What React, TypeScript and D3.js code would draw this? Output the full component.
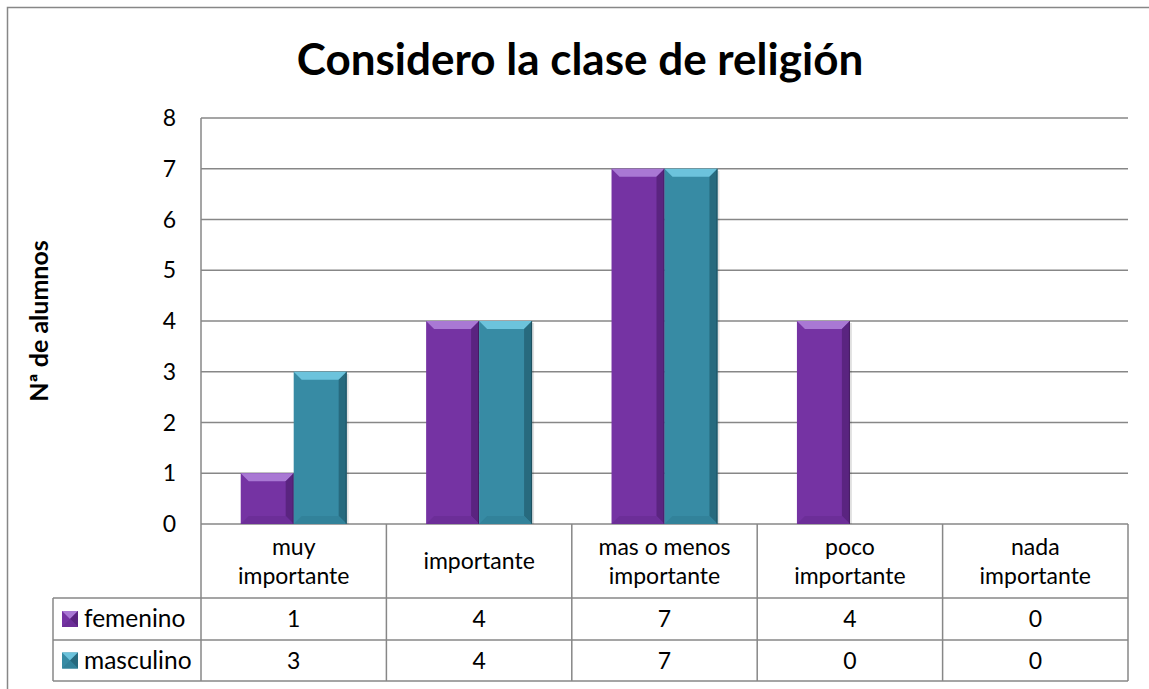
import * as d3 from "d3";

const categories = ["muy importante", "importante", "mas o menos importante", "poco importante", "nada importante"];
const seriesNames = ["femenino", "masculino"];
const femenino = [1, 4, 7, 4, 0];
const masculino = [3, 4, 7, 0, 0];
const yTicks = [0, 1, 2, 3, 4, 5, 6, 7, 8];

const W = 1149;
const H = 689;
const FONT = "Lato, 'Open Sans', sans-serif";
const LINE = "#878787";

// colours: body, light top, dark side
const palette = [
  { body: "#7533a3", light: "#a978d4", side: "#6c2e98", dark: "#5a2480" },
  { body: "#378ba4", light: "#6cc3dc", side: "#32829a", dark: "#276a7e" },
];

const plot = { left: 201, right: 1128, top: 118, bottom: 524 };
const table = { legendLeft: 53, row1: 598, row2: 640, row3: 681 };

function wrap(label: string) {
  if (label.length <= 12) return [label];
  const i = label.lastIndexOf(" ");
  return [label.slice(0, i), label.slice(i + 1)];
}

const pts = (p: number[][]) => p.map((d) => d.join(",")).join(" ");

function BevelBar({ x, y, w, h, c }: { x: number; y: number; w: number; h: number; c: typeof palette[0] }) {
  if (h <= 0) return null;
  const b = Math.min(8, h / 2, w / 2);
  return (
    <g>
      <rect x={x + 2} y={y + 2} width={w} height={h - 2} fill="#000" opacity={0.12} />
      <rect x={x} y={y} width={w} height={h} fill={c.body} />
      <polygon points={pts([[x, y], [x + w, y], [x + w - b, y + b], [x + b, y + b]])} fill={c.light} />
      <polygon points={pts([[x + w, y], [x + w, y + h], [x + w - b, y + h - b], [x + w - b, y + b]])} fill={c.dark} />
      <polygon points={pts([[x, y + h], [x + w, y + h], [x + w - b, y + h - b], [x + b, y + h - b]])} fill={c.side} />
      <line x1={x + w - 0.5} x2={x + w - 0.5} y1={y} y2={y + h} stroke="#000" strokeOpacity={0.25} />
    </g>
  );
}

export default function App() {
  const x0 = d3.scaleBand<string>().domain(categories).range([plot.left, plot.right]).padding(0);
  const x1 = d3
    .scaleBand<string>()
    .domain(seriesNames)
    .range([0, x0.bandwidth()])
    .paddingInner(0)
    .paddingOuter(0.75);
  const y = d3.scaleLinear().domain([0, 8]).range([plot.bottom, plot.top]);
  const values = [femenino, masculino];
  const bounds = [...categories.map((c) => x0(c) as number), plot.right];

  return (
    <svg width={W} height={H} style={{ position: "absolute", left: 0, top: 0, background: "#fff" }} fontFamily={FONT}>
      {/* outer frame */}
      <path d={`M7.5,${H} V7.5 H${W}`} fill="none" stroke={LINE} strokeWidth={1.5} />

      <text x={580} y={75} textAnchor="middle" fontSize={44} fontWeight="bold" fill="#000">
        Considero la clase de religión
      </text>

      <text
        transform={`translate(48,${(plot.top + plot.bottom) / 2}) rotate(-90)`}
        textAnchor="middle"
        fontSize={25}
        fontWeight="bold"
        fill="#000"
      >
        Nª de alumnos
      </text>

      {/* gridlines + ticks */}
      {yTicks.map((t) => (
        <g key={t}>
          <line x1={plot.left} x2={plot.right} y1={y(t)} y2={y(t)} stroke={LINE} strokeWidth={1.5} />
          <text x={176} y={y(t) + 8} textAnchor="end" fontSize={23} fill="#000">
            {t}
          </text>
        </g>
      ))}
      <line x1={plot.left} x2={plot.left} y1={plot.top} y2={table.row3} stroke={LINE} strokeWidth={1.5} />

      {/* bars */}
      {categories.map((cat, i) =>
        seriesNames.map((s, j) => {
          const v = values[j][i];
          const bx = (x0(cat) as number) + (x1(s) as number);
          return <BevelBar key={cat + s} x={bx} y={y(v)} w={x1.bandwidth()} h={y(0) - y(v)} c={palette[j]} />;
        })
      )}

      {/* data table */}
      {bounds.slice(1).map((bx, i) => (
        <line key={i} x1={bx} x2={bx} y1={plot.bottom} y2={table.row3} stroke={LINE} strokeWidth={1.5} />
      ))}
      <line x1={table.legendLeft} x2={table.legendLeft} y1={table.row1} y2={table.row3} stroke={LINE} strokeWidth={1.5} />
      {[table.row1, table.row2, table.row3].map((ry) => (
        <line key={ry} x1={table.legendLeft} x2={plot.right} y1={ry} y2={ry} stroke={LINE} strokeWidth={1.5} />
      ))}

      {categories.map((cat) => {
        const lines = wrap(cat);
        const cx = (x0(cat) as number) + x0.bandwidth() / 2;
        const mid = (plot.bottom + table.row1) / 2;
        return (
          <text key={cat} x={cx} textAnchor="middle" fontSize={23} fill="#000">
            {lines.map((l, k) => (
              <tspan key={k} x={cx} y={mid + 8 + (k - (lines.length - 1) / 2) * 29}>
                {l}
              </tspan>
            ))}
          </text>
        );
      })}

      {seriesNames.map((s, j) => {
        const top = j === 0 ? table.row1 : table.row2;
        const bot = j === 0 ? table.row2 : table.row3;
        const cy = (top + bot) / 2;
        const c = palette[j];
        const ix = 62;
        const sz = 16;
        const iy = cy - sz / 2;
        const m = sz / 2;
        return (
          <g key={s}>
            <rect x={ix} y={iy} width={sz} height={sz} fill={c.body} />
            <polygon points={pts([[ix, iy], [ix + sz, iy], [ix + m, iy + m]])} fill={c.light} />
            <polygon points={pts([[ix + sz, iy], [ix + sz, iy + sz], [ix + m, iy + m]])} fill={c.dark} />
            <polygon points={pts([[ix, iy + sz], [ix + sz, iy + sz], [ix + m, iy + m]])} fill={c.side} />
            <text x={84} y={cy + 8} fontSize={24.5} fill="#000">
              {s}
            </text>
            {categories.map((cat, i) => (
              <text key={cat} x={(x0(cat) as number) + x0.bandwidth() / 2} y={cy + 8} textAnchor="middle" fontSize={23} fill="#000">
                {values[j][i]}
              </text>
            ))}
          </g>
        );
      })}
    </svg>
  );
}
